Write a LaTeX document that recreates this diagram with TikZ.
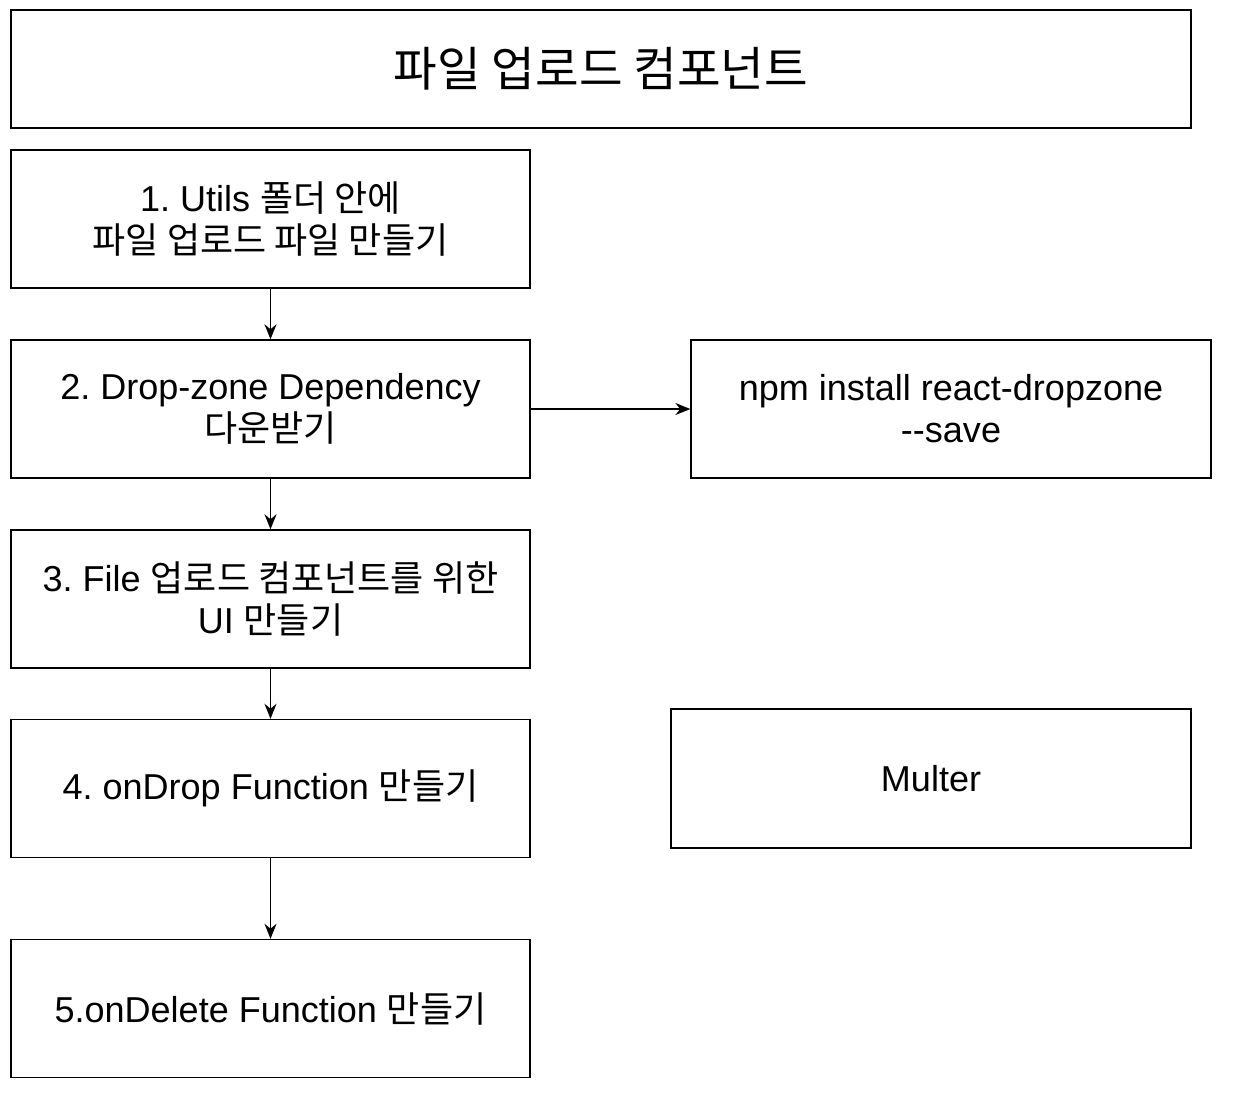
\documentclass[tikz,border=0pt]{standalone}
\usepackage{fontspec}
\setmainfont{Liberation Sans}
\newfontfamily\kr{Noto Sans CJK KR}
\frenchspacing
\usetikzlibrary{positioning, arrows.meta}
\tikzset{
    > = {Stealth[length=3mm, width=2.4mm]},
    box/.style = {draw, line width=0.8pt, align=center, inner sep=0pt,
        minimum width=10.38cm, minimum height=2.76cm,
        font=\fontsize{20.5}{24}\selectfont},
    flow/.style = {->, line width=0.8pt}
}

\begin{document}
\begin{tikzpicture}[x=0.02cm, y=-0.02cm]
    \useasboundingbox (0, 0) rectangle (1234, 1100);

    \node[box, minimum width=23.6cm, minimum height=2.36cm,
        font=\fontsize{27}{32}\selectfont] (title) at (601, 69) {\kr 파일 업로드 컴포넌트};

    \node[box] (s1) at (270.5, 219) {1. Utils {\kr 폴더 안에}\\{\kr 파일 업로드 파일 만들기}};
    \node[box] (s2) at (270.5, 409) {2. Drop-zone Dependency\\{\kr 다운받기}};
    \node[box] (s3) at (270.5, 599) {3. File {\kr 업로드 컴포넌트를 위한}\\UI {\kr 만들기}};
    \node[box] (s4) at (270.5, 788.5) {4. onDrop Function {\kr 만들기}};
    \node[box] (s5) at (270.5, 1008.5) {5.onDelete Function {\kr 만들기}};

    \node[box, minimum width=10.4cm] (npm) at (951, 409) {npm install react-dropzone\\\mbox{-}\mbox{-}save};
    \node[box, minimum width=10.4cm, minimum height=2.78cm] (multer) at (931, 778.5) {Multer};

    \draw[flow] (s1) -- (s2);
    \draw[flow] (s2) -- (s3);
    \draw[flow] (s3) -- (s4);
    \draw[flow] (s4) -- (s5);
    \draw[flow] (s2) -- (npm);
\end{tikzpicture}
\end{document}
